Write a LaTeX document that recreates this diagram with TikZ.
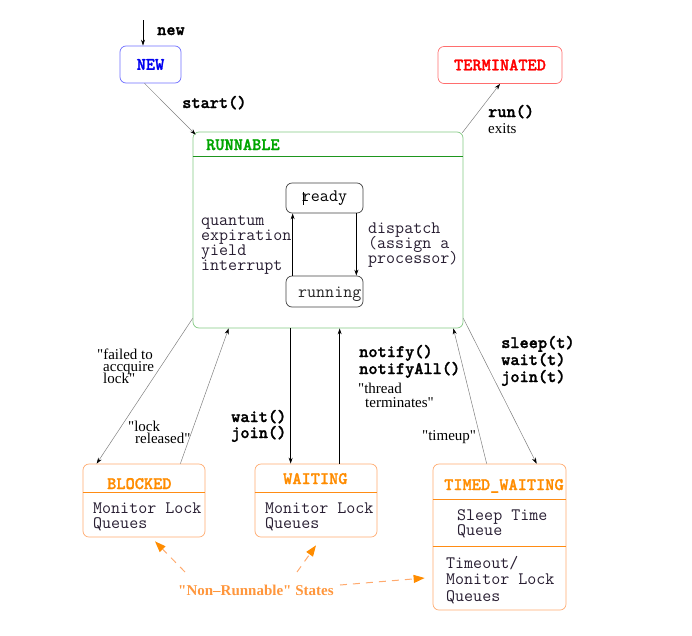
\documentclass[tikz,border=0pt]{standalone}
\usepackage{fontspec}
\newfontfamily\lblfont{Liberation Serif}
\newfontfamily\bmonofont{lmmonolt10-bold.otf}[FakeBold=1.5]
\usetikzlibrary{arrows.meta}
\definecolor{bluetxt}{RGB}{0,0,240}
\definecolor{blueln}{RGB}{110,110,255}
\definecolor{redtxt}{RGB}{255,0,0}
\definecolor{redln}{RGB}{255,110,110}
\definecolor{grntxt}{RGB}{0,165,0}
\definecolor{grnln}{RGB}{130,200,130}
\definecolor{grndk}{RGB}{30,150,30}
\definecolor{orgtxt}{RGB}{255,140,0}
\definecolor{orgln}{RGB}{255,170,110}
\definecolor{orgdk}{RGB}{255,140,20}
\definecolor{orglbl}{RGB}{255,150,60}
\definecolor{bodytxt}{RGB}{40,30,50}
\newcommand\stk[2]{\vtop{\baselineskip=#1pt\lineskiplimit=-100pt\lineskip=0pt\halign{##\hfil\cr#2\crcr}}}
\begin{document}
\begin{tikzpicture}[x=1pt,y=-1pt,
  box/.style={draw, rounded corners=6pt, line width=0.7pt, inner sep=0pt},
  mono/.style={font=\fontsize{17.5}{15}\selectfont\ttfamily, text=bodytxt, inner sep=0pt, anchor=base west},
  bmono/.style={font=\fontsize{17.5}{15}\selectfont\bmonofont, inner sep=0pt, anchor=base west},
  serif/.style={font=\fontsize{15}{12}\selectfont\lblfont, inner sep=0pt, anchor=base west},
  thinarr/.style={draw=black!50, line width=0.5pt, -{Stealth[length=6pt,width=4pt,color=black]}},
  blkarr/.style={draw=black, line width=0.9pt, -{Stealth[length=6pt,width=4pt]}},
  dasharr/.style={draw=orgln, line width=1pt, dash pattern=on 7pt off 6pt, -{Triangle[length=11pt,width=8pt,color=orgtxt]}}
]
\path[use as bounding box] (0,0) rectangle (692,635);

% top states
\node[box, draw=blueln, minimum width=61pt, minimum height=37pt,
      font=\fontsize{17.5}{15}\selectfont\bmonofont, text=bluetxt] (new) at (150.5,64.5) {NEW};
\node[box, draw=redln, minimum width=124pt, minimum height=37pt,
      font=\fontsize{17.5}{15}\selectfont\bmonofont, text=redtxt] (term) at (500,65) {TERMINATED};

% runnable
\node[box, draw=grnln, minimum width=270pt, minimum height=196pt] (runnable) at (328,230) {};
\node[bmono, text=grntxt] (runT) at (206,150) {RUNNABLE};
\draw[grndk, line width=0.7pt] ([yshift=-25pt]runnable.north west) -- ([yshift=-25pt]runnable.north east);

\node[box, draw=black!75, line width=0.7pt, minimum width=77pt, minimum height=30pt,
      font=\fontsize{17.5}{15}\selectfont\ttfamily] (ready) at (324.5,198) {ready};
\draw[black, line width=0.6pt] (303,192) -- (303,205);
\node[box, draw=black!75, line width=0.7pt, minimum width=77pt, minimum height=31pt] (running) at (324.5,291.5) {};
\node[mono, text=black!85] (runningT) at (298,297) {running};

\draw[blkarr] ([xshift=7pt]running.north west) -- ([xshift=7pt]ready.south west);
\draw[blkarr] ([xshift=-7pt]ready.south east) -- ([xshift=-7pt]running.north east);

\node[mono] (quant) at (201,225) {\stk{15}{quantum\cr expiration\cr yield\cr interrupt}};
\node[mono] (disp) at (368,233) {\stk{15}{dispatch\cr(assign a\cr processor)}};

% lower states
\node[box, draw=orgln, minimum width=122pt, minimum height=73pt] (blocked) at (144,500.5) {};
\node[bmono, text=orgtxt] (blockedT) at (107,489) {BLOCKED};
\draw[orgdk, line width=0.7pt] ([yshift=-29pt]blocked.north west) -- ([yshift=-29pt]blocked.north east);
\node[mono] (blockedB) at (93,513) {\stk{15}{Monitor Lock\cr Queues}};

\node[box, draw=orgln, minimum width=122pt, minimum height=73pt] (waiting) at (316,500.5) {};
\node[bmono, text=orgtxt] (waitingT) at (283,484) {WAITING};
\draw[orgdk, line width=0.7pt] ([yshift=-29pt]waiting.north west) -- ([yshift=-29pt]waiting.north east);
\node[mono] (waitingB) at (265,513) {\stk{15}{Monitor Lock\cr Queues}};

\node[box, draw=orgln, minimum width=133pt, minimum height=146pt] (timed) at (499.5,537) {};
\node[bmono, text=orgtxt] (timedT) at (444,490) {TIMED\_WAITING};
\draw[orgdk, line width=0.7pt] ([yshift=-36pt]timed.north west) -- ([yshift=-36pt]timed.north east);
\draw[orgdk, line width=0.7pt] ([yshift=-83pt]timed.north west) -- ([yshift=-83pt]timed.north east);
\node[mono] (timedB1) at (457,520) {\stk{15}{Sleep Time\cr Queue}};
\node[mono] (timedB2) at (446,568) {\stk{16.5}{Timeout/\cr Monitor Lock\cr Queues}};

% connectors
\coordinate (newsrc) at (143,20);
\draw[blkarr, line width=0.7pt] (newsrc) -- ([xshift=-7.5pt]new.north);
\node[bmono] (newL) at (157,35) {new};

\draw[thinarr] ([xshift=-6pt]new.south) -- ([shift={(3pt,-3pt)}]runnable.north west);
\node[bmono] (startL) at (182,108) {start()};

\draw[thinarr] ([shift={(-1pt,-1pt)}]runnable.north east) -- (term.south);
\node[bmono] (runL) at (488,117) {run()};
\node[serif] (exitsL) at (488,133) {exits};

\draw[thinarr] ([yshift=10pt]runnable.south west) -- ([xshift=14pt]blocked.north west);
\node[serif] (failL) at (97,359) {\stk{12}{"failed to\cr\hskip6pt accquire\cr\hskip6pt lock"}};

\draw[thinarr] ([xshift=-25pt]blocked.north east) -- ([xshift=36pt]runnable.south west);
\node[serif] (relL) at (128,431) {\stk{12}{"lock\cr\hskip7pt released"}};

\draw[blkarr] ([xshift=98pt]runnable.south west) -- ([xshift=36pt]waiting.north west);
\node[bmono] (waitL) at (231,422) {\stk{16}{wait()\cr join()}};

\draw[blkarr] ([xshift=85pt]waiting.north west) -- ([xshift=147pt]runnable.south west);
\node[bmono] (notifyL) at (359,357) {\stk{17}{notify()\cr notifyAll()}};
\node[serif] (threadL) at (358,393) {\stk{14}{"thread\cr\hskip7pt terminates"}};

\draw[thinarr] ([xshift=54pt]timed.north west) -- ([xshift=-10pt]runnable.south east);
\node[serif] (timeupL) at (422,440) {"timeup"};

\draw[thinarr] ([yshift=10pt]runnable.south east) -- ([xshift=104pt]timed.north west);
\node[bmono] (sleepL) at (501,348) {\stk{17}{sleep(t)\cr wait(t)\cr join(t)}};

% non-runnable
\node[serif, font=\fontsize{15}{15}\selectfont\lblfont\bfseries, text=orglbl] (nr) at (178,595) {"Non–Runnable" States};
\coordinate (d1) at (185,572);
\coordinate (d2) at (297,572);
\coordinate (d3) at (340,585);
\draw[dasharr] (d1) -- ([shift={(11pt,-4pt)}]blocked.south);
\draw[dasharr] (d2) -- ([shift={(0pt,-8pt)}]waiting.south);
\draw[dasharr] (d3) -- ([shift={(-8pt,-41pt)}]timed.west);
\end{tikzpicture}
\end{document}
